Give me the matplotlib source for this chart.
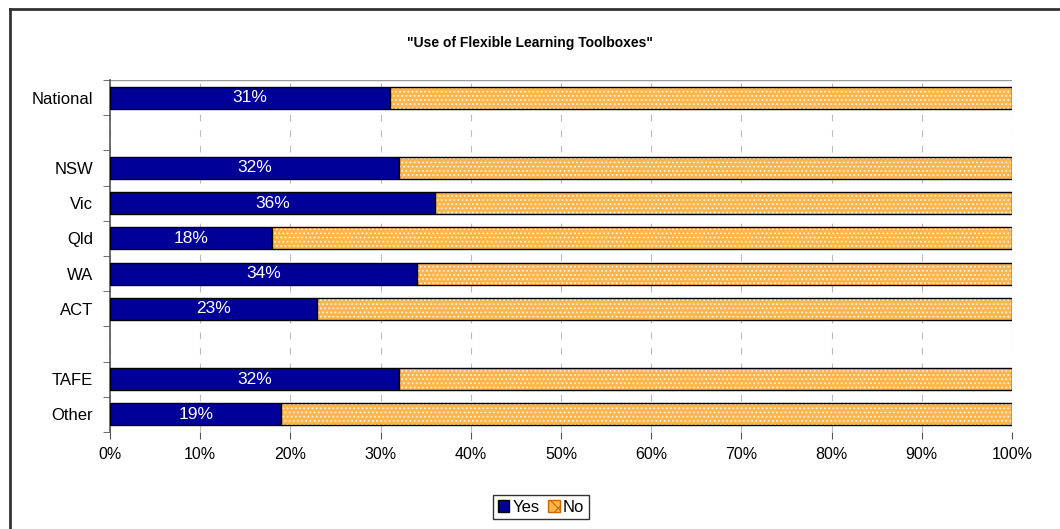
import numpy as np
import matplotlib.pyplot as plt
from matplotlib.lines import Line2D
from matplotlib.patches import Patch

categories = ['National', '', 'NSW', 'Vic', 'Qld', 'WA', 'ACT', '', 'TAFE', 'Other']
yes = [31, None, 32, 36, 18, 34, 23, None, 32, 19]
xticks = [0, 10, 20, 30, 40, 50, 60, 70, 80, 90, 100]

plt.rcParams['font.family'] = ['Liberation Sans', 'DejaVu Sans']
plt.rcParams['hatch.linewidth'] = 0.8

fig = plt.figure(figsize=(10.6, 5.29), dpi=100)
ax = fig.add_axes([110 / 1060, 1 - 432 / 529, 902 / 1060, 352 / 529])

navy = '#000099'
orange = '#FFB54A'
n = len(categories)
ypos = np.arange(n)

for i, v in enumerate(yes):
    if v is None:
        continue
    ax.barh(i, v, height=0.62, color=navy, edgecolor='black', linewidth=1, zorder=3)
    ax.barh(i, 100 - v, left=v, height=0.62, color=orange, edgecolor='#FFF4E0',
            hatch='....', linewidth=0, zorder=3)
    ax.barh(i, 100 - v, left=v, height=0.62, color='none', edgecolor='black',
            linewidth=1, zorder=4)
    ax.text(v / 2, i, f'{v}%', color='white', ha='center', va='center',
            fontsize=12.5, zorder=5)

ax.set_xlim(0, 100)
ax.set_ylim(n - 0.5, -0.5)
ax.set_xticks(xticks)
ax.set_xticklabels([f'{t}%' for t in xticks], fontsize=11.5)
ax.set_yticks(ypos)
ax.set_yticklabels(categories, fontsize=12)
ax.tick_params(axis='y', length=0, pad=12)
ax.set_yticks(np.arange(n + 1) - 0.5, minor=True)
ax.tick_params(axis='y', which='minor', length=5, color='#555555')
ax.tick_params(axis='x', length=5, color='#555555', pad=6)
ax.xaxis.grid(True, color='#bbbbbb', linestyle=(0, (6, 8)), linewidth=0.8, zorder=0)
for s in ['top', 'right', 'bottom']:
    ax.spines[s].set_visible(False)
ax.spines['left'].set_color('#555555')
ax.spines['left'].set_linewidth(1.2)
ax.axhline(-0.5, color='#999999', linewidth=1, zorder=1)

fig.text(0.5, 1 - 43 / 529, '"Use of Flexible Learning Toolboxes"', ha='center',
         va='center', fontsize=10, fontweight='bold')

handles = [Patch(facecolor=navy, edgecolor='black', label='Yes'),
           Patch(facecolor=orange, edgecolor='#cc6600', hatch='xx', label='No')]
leg = fig.legend(handles=handles, loc='center', bbox_to_anchor=(541 / 1060, 1 - 507 / 529),
                 ncol=2, frameon=True, fancybox=False, edgecolor='black', fontsize=12,
                 handlelength=0.7, handleheight=0.7, handletextpad=0.2, columnspacing=0.5,
                 borderpad=0.25, borderaxespad=0)
leg.get_frame().set_linewidth(1)

fig.add_artist(Line2D([10 / 1060, 10 / 1060], [0, 1 - 9 / 529], color='#333333',
                      linewidth=2, transform=fig.transFigure))
fig.add_artist(Line2D([10 / 1060, 1], [1 - 9 / 529, 1 - 9 / 529], color='#333333',
                      linewidth=2, transform=fig.transFigure))

fig.savefig('out.png', dpi=100)
